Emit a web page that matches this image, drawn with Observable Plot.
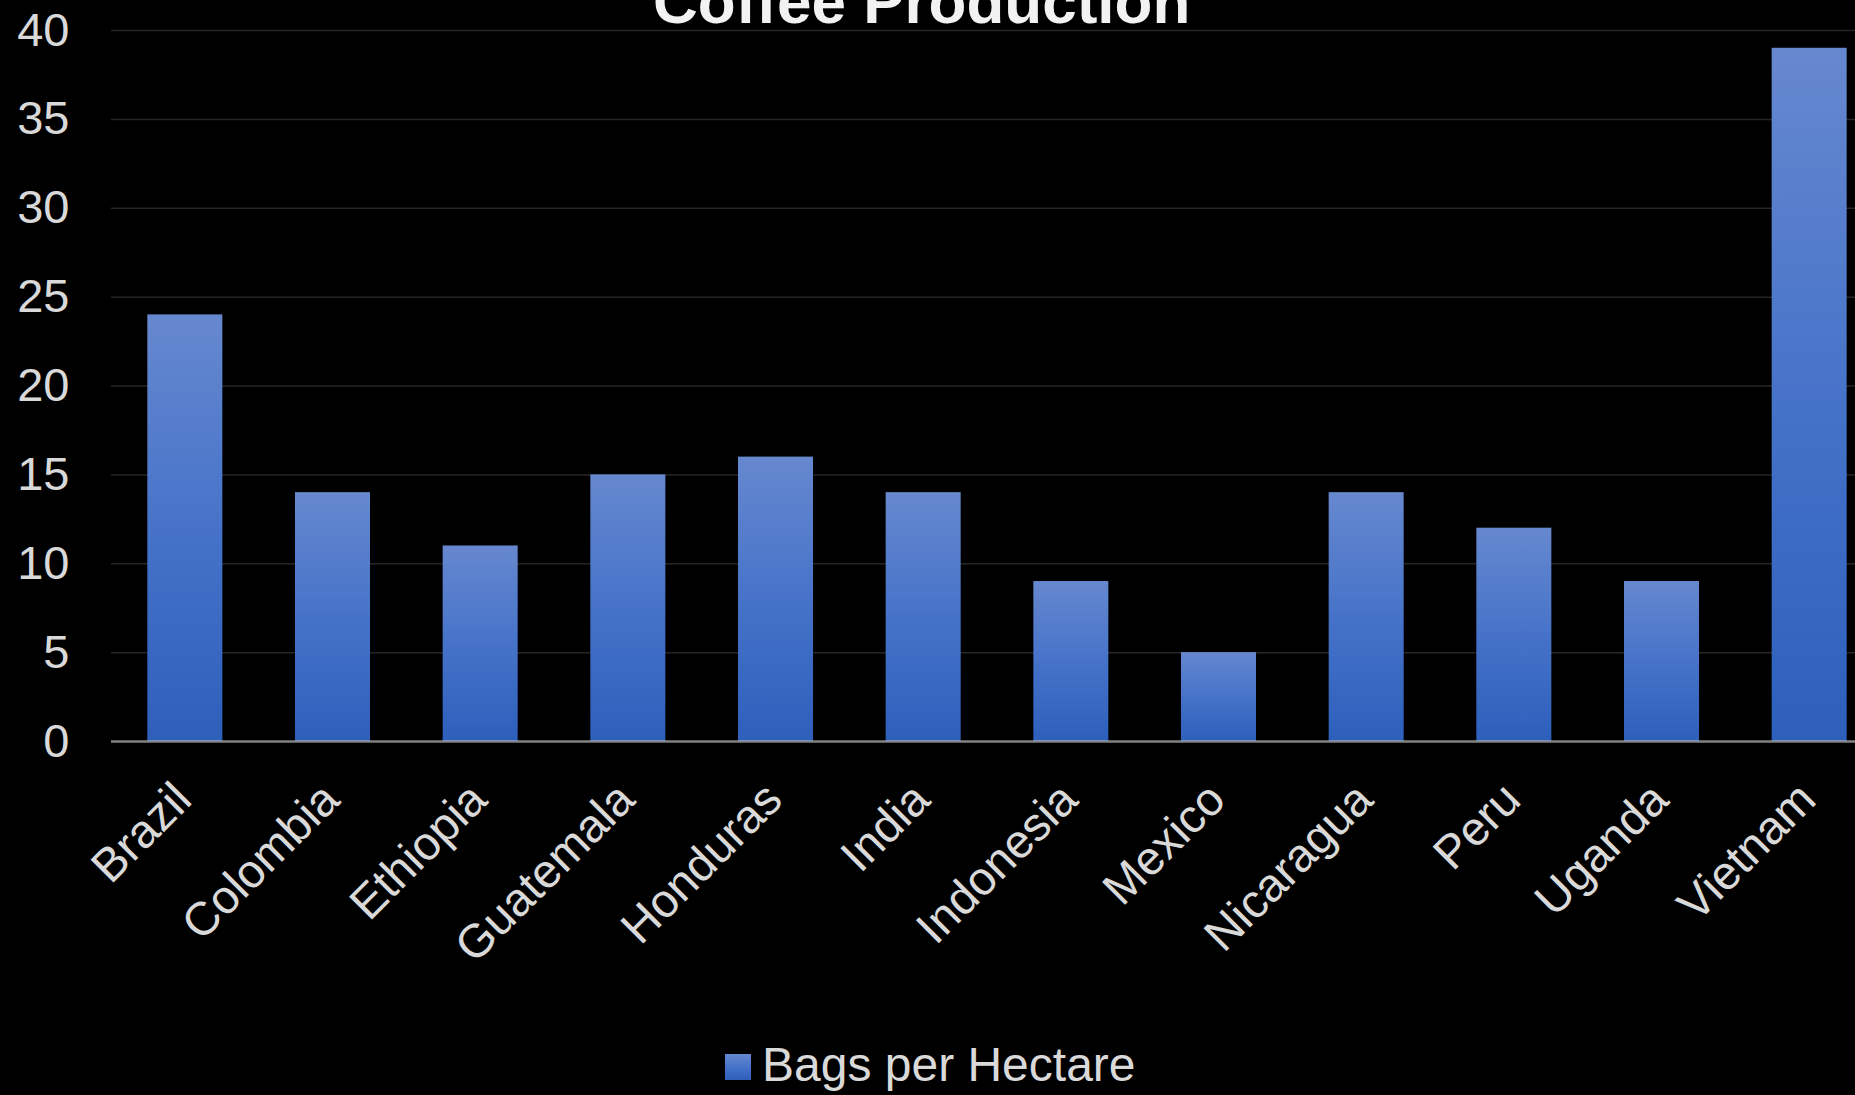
<!DOCTYPE html>
<html><head><meta charset="utf-8">
<script src="https://cdn.jsdelivr.net/npm/d3@7"></script>
<script src="https://cdn.jsdelivr.net/npm/@observablehq/plot@0.6"></script>
<style>
html,body{margin:0;padding:0;background:#000;}
#wrap{position:relative;width:1855px;height:1095px;overflow:hidden;background:#000;font-family:"Liberation Sans",Arial,sans-serif;}
#chart{width:1855px;overflow:hidden;}
#chart svg{max-width:none !important;width:1883px;height:1000px;}
#title{position:absolute;left:653px;top:-29.5px;font-size:62px;line-height:62px;font-weight:bold;color:#f2f2f2;white-space:nowrap;}
#legend{position:absolute;left:0;top:1000px;width:1855px;height:95px;}
#legend .sw{position:absolute;left:725px;top:54px;width:26px;height:26px;background:linear-gradient(#6688cf,#4673c9,#2d5fbb);}
#legend .lb{position:absolute;left:762px;top:41px;font-size:48px;line-height:48px;color:#d9d9d9;white-space:nowrap;}
</style></head>
<body><div id="wrap"><div id="chart"></div><div id="legend"><div class="sw"></div><div class="lb"></div></div><div id="title">Coffee Production</div></div>
<script>
const countries = ["Brazil","Colombia","Ethiopia","Guatemala","Honduras","India","Indonesia","Mexico","Nicaragua","Peru","Uganda","Vietnam"];
const values = [24,14,11,15,16,14,9,5,14,12,9,39];
const yTicks = [0,5,10,15,20,25,30,35,40];
const seriesName = "Bags per Hectare";
const chartTitle = "Coffee Production";

document.getElementById("title").textContent = chartTitle;
document.querySelector("#legend .lb").textContent = seriesName;

const data = countries.map((c, i) => ({country: c, value: values[i]}));

const NS = "http://www.w3.org/2000/svg";
function defsMark() {
  const defs = document.createElementNS(NS, "defs");
  const g = document.createElementNS(NS, "linearGradient");
  g.setAttribute("id", "barGrad");
  g.setAttribute("x1", "0"); g.setAttribute("y1", "0");
  g.setAttribute("x2", "0"); g.setAttribute("y2", "1");
  [["0%", "#6688cf"], ["50%", "#4673c9"], ["100%", "#2d5fbb"]].forEach(([o, c]) => {
    const s = document.createElementNS(NS, "stop");
    s.setAttribute("offset", o);
    s.setAttribute("stop-color", c);
    g.appendChild(s);
  });
  defs.appendChild(g);
  return defs;
}

const chart = Plot.plot({
  width: 1883,
  height: 1000,
  marginLeft: 111,
  marginRight: 0,
  marginTop: 30,
  marginBottom: 259,
  style: {background: "#000", fontFamily: '"Liberation Sans", Arial, sans-serif', color: "#d9d9d9", overflow: "visible", maxWidth: "none"},
  x: {domain: countries, paddingInner: 0.492, paddingOuter: 0.246, round: false, axis: null},
  y: {domain: [0, 40], axis: null},
  marks: [
    defsMark,
    Plot.gridY(yTicks.filter(t => t > 0), {stroke: "#262626", strokeOpacity: 1, strokeWidth: 1.5}),
    Plot.barY(data, {x: "country", y: "value", fill: "url(#barGrad)"}),
    Plot.ruleY([0], {stroke: "#d9d9d9", strokeOpacity: 0.6, strokeWidth: 2.5}),
    Plot.axisY(yTicks, {tickSize: 0, tickPadding: 42, fontSize: 47, fill: "#d9d9d9", label: null}),
    Plot.text(countries, {x: d => d, frameAnchor: "bottom", rotate: -45, textAnchor: "end", lineAnchor: "middle", dx: -2, dy: 50, fontSize: 47, fill: "#d9d9d9"})
  ]
});
document.getElementById("chart").appendChild(chart);
</script>
</body></html>
